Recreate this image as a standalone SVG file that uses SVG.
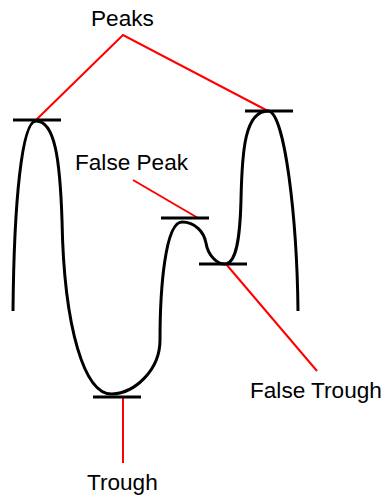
<svg xmlns="http://www.w3.org/2000/svg" width="385" height="497" viewBox="0 0 385 497">
<style>
.lbl{font-family:"Liberation Sans",Arial,sans-serif;font-size:22.6px;fill:#000}
.curve{fill:none;stroke:#000;stroke-width:3;stroke-linecap:butt}
.tick{stroke:#000;stroke-width:3}
.lead{stroke:#ff0000;stroke-width:2;fill:none}
</style>
<rect width="385" height="497" fill="#fff"/>
<g id="curve">
<path class="curve" d="M13 311 C14 200 22 121 36 121 C55 121 60 160 62 220 C64 330 85 395 112 394 C135 393 160 370 160 340 C160 290 165 222 182 222 C195 222 204 232 206 243 C208 256 218 265 226 264 C236 262 240 240 241 200 C242 150 245 111 268 111 C285 111 297 220 298 311"/>
</g>
<g id="connectors">
<polyline class="lead" points="36,120 123,35 268,111"/>
<line class="lead" x1="133" y1="180" x2="198" y2="218"/>
<line class="lead" x1="226" y1="264" x2="317" y2="371"/>
<line class="lead" x1="123" y1="397" x2="123" y2="463"/>
</g>
<g id="peak-left"><line class="tick" x1="13" y1="120" x2="61" y2="120"/></g>
<g id="peak-right"><line class="tick" x1="245" y1="111" x2="293" y2="111"/></g>
<g id="false-peak"><line class="tick" x1="161" y1="218" x2="209" y2="218"/></g>
<g id="false-trough"><line class="tick" x1="199" y1="264" x2="247" y2="264"/></g>
<g id="trough"><line class="tick" x1="93" y1="397" x2="141" y2="397"/></g>
<g id="label-peaks"><text class="lbl" x="91" y="26">Peaks</text></g>
<g id="label-false-peak"><text class="lbl" x="75" y="170">False Peak</text></g>
<g id="label-false-trough"><text class="lbl" x="250" y="398">False Trough</text></g>
<g id="label-trough"><text class="lbl" x="87" y="490">Trough</text></g>
</svg>
